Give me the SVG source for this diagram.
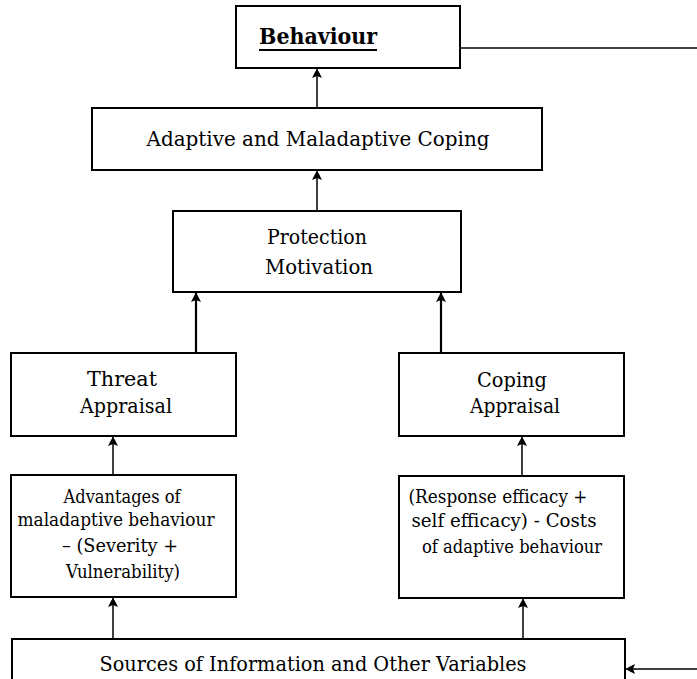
<svg xmlns="http://www.w3.org/2000/svg" width="697" height="679" viewBox="0 0 697 679">
  <style>
    .box { fill: #fff; stroke: #000; stroke-width: 2; }
    .t { font-family: "DejaVu Serif", "Liberation Serif", serif; font-size: 19px; fill: #000; text-anchor: middle; }
    .big { font-size: 21px; }
    .bold { font-weight: bold; font-size: 22px; }
    .conn { stroke: #000; stroke-width: 1.5; fill: none; }
    .thick { stroke-width: 2.2; }
  </style>
  <defs>
    <marker id="ah" markerUnits="userSpaceOnUse" markerWidth="12" markerHeight="12" viewBox="-10 -6 12 12" refX="0" refY="0" orient="auto">
      <path d="M0,0 L-3,-2 L-9,-5 L-7,0 L-9,5 L-3,2 Z" fill="#000"/>
    </marker>
  </defs>
  <rect width="697" height="679" fill="#fff"/>

  <g id="connectors">
    <line class="conn" x1="317" y1="108" x2="317" y2="69" marker-end="url(#ah)"/>
    <line class="conn" x1="317" y1="211" x2="317" y2="171" marker-end="url(#ah)"/>
    <line class="conn thick" x1="196" y1="353" x2="196" y2="293" marker-end="url(#ah)"/>
    <line class="conn thick" x1="441" y1="353" x2="441" y2="293" marker-end="url(#ah)"/>
    <line class="conn" x1="113" y1="475" x2="113" y2="437" marker-end="url(#ah)"/>
    <line class="conn" x1="522" y1="476" x2="522" y2="437" marker-end="url(#ah)"/>
    <line class="conn" x1="113" y1="639" x2="113" y2="598" marker-end="url(#ah)"/>
    <line class="conn" x1="523" y1="639" x2="523" y2="599" marker-end="url(#ah)"/>
    <line class="conn" x1="460" y1="48" x2="697" y2="48"/>
    <line class="conn" x1="697" y1="669" x2="626" y2="669" marker-end="url(#ah)"/>
  </g>

  <g id="behaviour">
    <rect class="box" x="236" y="6" width="224" height="62"/>
    <text class="t bold" x="318" y="44" textLength="118" lengthAdjust="spacingAndGlyphs">Behaviour</text>
    <line x1="259" y1="50" x2="377" y2="50" stroke="#000" stroke-width="2"/>
  </g>

  <g id="coping-response">
    <rect class="box" x="92" y="108" width="450" height="62"/>
    <text class="t big" x="318" y="146" textLength="343" lengthAdjust="spacingAndGlyphs">Adaptive and Maladaptive Coping</text>
  </g>

  <g id="protection-motivation">
    <rect class="box" x="173" y="211" width="288" height="81"/>
    <text class="t big" x="317" y="244" textLength="100" lengthAdjust="spacingAndGlyphs">Protection</text>
    <text class="t big" x="319" y="274" textLength="108" lengthAdjust="spacingAndGlyphs">Motivation</text>
  </g>

  <g id="threat-appraisal">
    <rect class="box" x="11" y="353" width="225" height="83"/>
    <text class="t big" x="122" y="386" textLength="70" lengthAdjust="spacingAndGlyphs">Threat</text>
    <text class="t big" x="126" y="413" textLength="92" lengthAdjust="spacingAndGlyphs">Appraisal</text>
  </g>

  <g id="coping-appraisal">
    <rect class="box" x="399" y="353" width="225" height="83"/>
    <text class="t big" x="512" y="387" textLength="70" lengthAdjust="spacingAndGlyphs">Coping</text>
    <text class="t big" x="515" y="413" textLength="90" lengthAdjust="spacingAndGlyphs">Appraisal</text>
  </g>

  <g id="threat-components">
    <rect class="box" x="11" y="475" width="225" height="122"/>
    <text class="t" x="122" y="503" textLength="117" lengthAdjust="spacingAndGlyphs">Advantages of</text>
    <text class="t" x="116" y="526" textLength="197" lengthAdjust="spacingAndGlyphs">maladaptive behaviour</text>
    <text class="t" x="120" y="552" textLength="116" lengthAdjust="spacingAndGlyphs">– (Severity +</text>
    <text class="t" x="123" y="578" textLength="114" lengthAdjust="spacingAndGlyphs">Vulnerability)</text>
  </g>

  <g id="coping-components">
    <rect class="box" x="399" y="476" width="225" height="122"/>
    <text class="t" x="498" y="503" textLength="179" lengthAdjust="spacingAndGlyphs">(Response efficacy +</text>
    <text class="t" x="504" y="527" textLength="185" lengthAdjust="spacingAndGlyphs">self efficacy) - Costs</text>
    <text class="t" x="512" y="553" textLength="180" lengthAdjust="spacingAndGlyphs">of adaptive behaviour</text>
  </g>

  <g id="sources">
    <rect class="box" x="12" y="639" width="613" height="60"/>
    <text class="t big" x="313" y="671" textLength="427" lengthAdjust="spacingAndGlyphs">Sources of Information and Other Variables</text>
  </g>
</svg>
